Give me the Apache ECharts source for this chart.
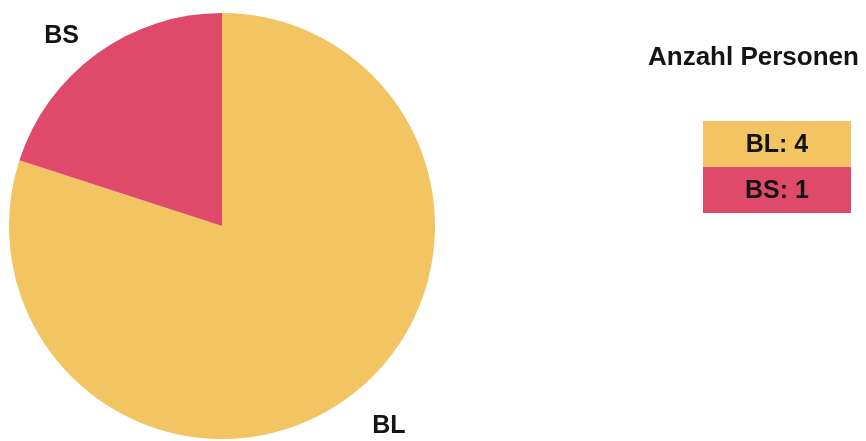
<!DOCTYPE html>
<html>
<head>
<meta charset="utf-8">
<script src="https://cdn.jsdelivr.net/npm/echarts@6/dist/echarts.min.js"></script>
<style>
  html, body { margin: 0; padding: 0; background: #fff; }
  #chart { width: 866px; height: 441px; }
</style>
</head>
<body>
<div id="chart"></div>
<script>
const categories = ['BL', 'BS']
const counts = [4, 1]
const colors = ['#F3C462', '#DF4A6A']
const legendTitle = 'Anzahl Personen'

const font = 'Arial'
const ink = '#141414'

const chart = echarts.init(document.getElementById('chart'))

// legend boxes, text sits inside the coloured box
const boxX = 703
const boxY = 121
const boxW = 148
const boxH = 46
const legendItems = categories.map((name, i) => ({
  type: 'group',
  left: boxX,
  top: boxY + i * boxH,
  children: [
    {
      type: 'rect',
      shape: { x: 0, y: 0, width: boxW, height: boxH },
      style: { fill: colors[i] },
    },
    {
      type: 'text',
      x: boxW / 2,
      y: boxH / 2 + 1,
      style: {
        text: `${name}: ${counts[i]}`,
        fill: ink,
        fontFamily: font,
        fontWeight: 'bold',
        fontSize: 25,
        align: 'center',
        verticalAlign: 'middle',
      },
    },
  ],
}))

// label distance differs a bit per slice in the original
const labelLen = [34, 22]

chart.setOption({
  animation: false,
  backgroundColor: '#fff',
  graphic: [
    {
      type: 'text',
      left: 648,
      top: 45,
      style: {
        text: legendTitle,
        fill: ink,
        fontFamily: font,
        fontWeight: 'bold',
        fontSize: 26,
      },
    },
    ...legendItems,
  ],
  series: [
    {
      type: 'pie',
      center: [222, 226],
      radius: 213,
      startAngle: 90,
      clockwise: true,
      data: categories.map((name, i) => ({
        name,
        value: counts[i],
        itemStyle: { color: colors[i] },
        labelLine: { length: labelLen[i] },
      })),
      label: {
        show: true,
        position: 'outside',
        formatter: '{b}',
        color: ink,
        fontFamily: font,
        fontWeight: 'bold',
        fontSize: 25,
      },
      labelLine: { show: false, length: 30, length2: 0 },
      emphasis: { disabled: true },
    },
  ],
})
</script>
</body>
</html>
